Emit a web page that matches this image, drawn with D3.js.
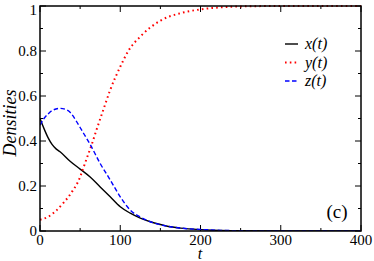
<!DOCTYPE html>
<html><head><meta charset="utf-8">
<script src="https://cdn.jsdelivr.net/npm/d3@7"></script>
<style>body{margin:0;background:#fff}svg{display:block}
text{font-family:"Times New Roman",Times,"Liberation Serif","Noto Serif","DejaVu Serif",serif}</style>
</head><body>
<svg id="c" width="374" height="261"></svg>
<script>
const tX = [0,5,10,15,20,25,37.5,50,62.5,75,87.5,100,112.5,125,137.5,150,162.5,175,200,225,250,300,400];
const xVals = [0.5,0.455,0.415,0.385,0.365,0.352,0.31,0.275,0.24,0.196,0.152,0.108,0.079,0.057,0.041,0.029,0.019,0.013,0.006,0.002,0.001,0,0];
const tY = [0,10,20,30,40,50,53,60,65,70,80,87.5,100,110,125,150,175,200,225,250,300,400];
const yVals = [0.05,0.063,0.09,0.128,0.175,0.24,0.27,0.34,0.39,0.445,0.55,0.627,0.73,0.80,0.864,0.935,0.968,0.985,0.994,0.998,1,1];
const tZ = [0,5,10,15,25,35,45,50,55,62.5,75,87.5,100,112.5,125,137.5,150,162.5,175,200,225,250,300,400];
const zVals = [0.47,0.5,0.52,0.535,0.545,0.535,0.49,0.46,0.43,0.385,0.30,0.227,0.152,0.093,0.062,0.041,0.028,0.019,0.013,0.007,0.003,0.001,0,0];
const xTicks = [0,100,200,300,400];
const yTicks = [0,0.2,0.4,0.6,0.8,1];
const yTickLabels = ["0","0.2","0.4","0.6","0.8","1"];
const legendLabels = ["x(t)","y(t)","z(t)"];
const colors = ["#000000","#ff0000","#0000ff"];

const svg = d3.select("#c");
const L=40, R=361, T=6, B=231;
const x = d3.scaleLinear().domain([0,400]).range([L,R]);
const y = d3.scaleLinear().domain([0,1]).range([B,T]);

const g = svg.append("g");
function tick(x1,y1,x2,y2){g.append("line").attr("x1",x1).attr("y1",y1).attr("x2",x2).attr("y2",y2).attr("stroke","#000").attr("stroke-width",1);}
d3.range(0,401,50).forEach(v=>{const len = v%100===0?6:3; tick(x(v),B,x(v),B-len); tick(x(v),T,x(v),T+len);});
d3.range(0,11).forEach(i=>{const v=i/10; const len = i%2===0?6:3; tick(L,y(v),L+len,y(v)); tick(R,y(v),R-len,y(v));});

xTicks.forEach(v=>{svg.append("text").attr("x",x(v)).attr("y",B+14).attr("text-anchor","middle").attr("font-size",15).text(v);});
yTicks.forEach((v,i)=>{svg.append("text").attr("x",L-3).attr("y",y(v)+ (v===1?9:5)).attr("text-anchor","end").attr("font-size",15).text(yTickLabels[i]);});

svg.append("text").attr("x",200).attr("y",259).attr("text-anchor","middle").attr("font-style","italic").attr("font-size",16).text("t");
svg.append("text").attr("transform",`translate(16,${y(0.48)}) rotate(-90)`).attr("text-anchor","middle").attr("font-style","italic").attr("font-size",18).text("Densities");
svg.append("text").attr("x",337).attr("y",218).attr("text-anchor","middle").attr("font-size",19).text("(c)");

const line = d3.line().curve(d3.curveMonotoneX);
const series = [[tX,xVals],[tY,yVals],[tZ,zVals]];
const dashes = [null,"1.6,3.2","4.5,2.5"];
const widths = [1.4,2,1.4];
svg.append("defs").append("clipPath").attr("id","cp").append("rect").attr("x",L).attr("y",T-2).attr("width",R-L).attr("height",B-T+2);
series.forEach((s,i)=>{
  const pts = s[0].map((t,j)=>[x(t),y(s[1][j])]);
  svg.append("path").attr("d",line(pts)).attr("fill","none").attr("stroke",colors[i]).attr("stroke-width",widths[i]).attr("stroke-dasharray",dashes[i]).attr("clip-path","url(#cp)");
});

svg.append("rect").attr("x",L).attr("y",T).attr("width",R-L).attr("height",B-T).attr("fill","none").attr("stroke","#000").attr("stroke-width",1.5);

legendLabels.forEach((lab,i)=>{
  const yy = 44 + i*18.5;
  svg.append("line").attr("x1",285).attr("x2",298).attr("y1",yy).attr("y2",yy).attr("stroke",colors[i]).attr("stroke-width",widths[i]).attr("stroke-dasharray",dashes[i]);
  svg.append("text").attr("x",305).attr("y",yy+5).attr("font-style","italic").attr("font-size",16).text(lab);
});
</script>
</body></html>
